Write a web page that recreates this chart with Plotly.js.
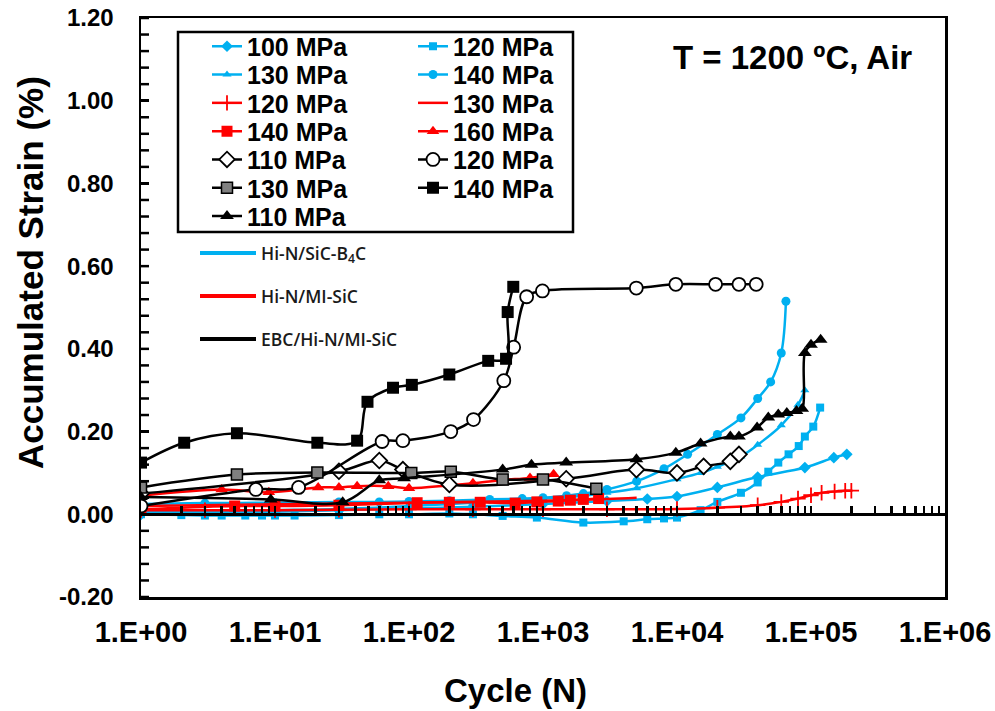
<!DOCTYPE html>
<html>
<head>
<meta charset="utf-8">
<script src="https://cdn.plot.ly/plotly-3.0.1.min.js"></script>
<style>html,body{margin:0;padding:0;background:#fff;}#chart{width:995px;height:711px;}</style>
</head>
<body>
<div id="chart"></div>
<script>
// ---------------- DATA ----------------
const BLUE = '#00B0F0', RED = '#FF0000';

// Hi-N/SiC-B4C (blue)
const b100_N = [1,3,10,30,100,300,1000,3000,6000,10000,20000,40000,90000,148000,185000];
const b100_S = [0.0,0.003,0.006,0.01,0.014,0.018,0.025,0.032,0.037,0.043,0.065,0.09,0.113,0.137,0.145];

const b120_N = [1,2,3,4,6,8,10,14,30,60,100,200,300,500,900,2000,4000,6000,8000,10000,15000,20000,30000,40000,48000,57000,68000,81000,90000,104000,117000];
const b120_S = [0.0,-0.002,-0.003,-0.003,-0.003,-0.003,-0.003,-0.003,-0.002,0.0,0.0,0.002,0.0,-0.004,-0.008,-0.02,-0.017,-0.012,-0.01,-0.008,0.01,0.03,0.052,0.077,0.103,0.125,0.145,0.165,0.188,0.212,0.258];

const b130_N = [1,3,10,30,100,300,1000,2000,3000,5000,10000,15000,20000,30000,40000,60000,80000,90000];
const b130_S = [0.005,0.007,0.01,0.013,0.02,0.028,0.038,0.045,0.052,0.063,0.085,0.1,0.115,0.14,0.168,0.215,0.265,0.30];

const b140_N = [1,3,10,30,60,100,200,400,700,1000,1500,2000,3000,5000,8000,12000,20000,30000,40000,50000,60000,65000];
const b140_S = [0.025,0.027,0.028,0.03,0.03,0.031,0.033,0.036,0.038,0.04,0.045,0.05,0.06,0.08,0.11,0.145,0.193,0.233,0.28,0.32,0.39,0.515];

// Hi-N/MI-SiC (red)
const r120_N = [1,3,10,30,100,300,1000,3000,10000,20000,40000,60000,80000,100000,120000,150000,180000,200000];
const r120_S = [0.01,0.01,0.01,0.011,0.012,0.012,0.012,0.012,0.013,0.016,0.022,0.03,0.038,0.046,0.052,0.055,0.057,0.057];

const r130_N = [1,10,100,1000,3000,5000];
const r130_S = [0.02,0.024,0.028,0.033,0.037,0.04];

const r140_N = [1,5,10,30,115,200,340,620,900,1300,1600,2000,2600];
const r140_S = [0.012,0.02,0.02,0.022,0.028,0.029,0.029,0.027,0.03,0.032,0.034,0.036,0.038];

const r160_N = [1,4,9,21,30,41,70,100,200,300,500,800,1200];
const r160_S = [0.045,0.06,0.053,0.065,0.065,0.068,0.068,0.063,0.07,0.075,0.083,0.088,0.097];

// EBC/Hi-N/MI-SiC (black)
const e110d_N = [1,30,60,90,200,1490,4980,10000,15800,25000,29000];
const e110d_S = [0.05,0.104,0.13,0.108,0.072,0.086,0.108,0.10,0.116,0.128,0.145];

const e120_N = [1,7.2,15,63,90,205,303,510,604,755,990,4970,9800,19400,29000,39000];
const e120_S = [0.02,0.06,0.065,0.176,0.178,0.2,0.229,0.323,0.404,0.526,0.54,0.547,0.556,0.556,0.556,0.556];

const e130_N = [1,5.2,20.7,104,205,500,1000,2500];
const e130_S = [0.065,0.096,0.101,0.1,0.103,0.084,0.084,0.062];

const e140_N = [1,2.1,5.2,20.7,41,49,76,105,200,390,530,545,600];
const e140_S = [0.125,0.173,0.196,0.173,0.178,0.272,0.306,0.313,0.338,0.371,0.376,0.489,0.55];

const e110t_N = [1,9.3,32,60,92,500,820,1490,4980,9800,15000,25000,29000,39600,48000,57000,66000,78000,86000,90000,100000,118000];
const e110t_S = [0.042,0.036,0.029,0.082,0.087,0.108,0.12,0.125,0.133,0.149,0.171,0.188,0.188,0.21,0.234,0.241,0.245,0.25,0.255,0.39,0.41,0.422];

const materials = ['Hi-N/SiC-B<sub>4</sub>C', 'Hi-N/MI-SiC', 'EBC/Hi-N/MI-SiC'];
const materialColors = [BLUE, RED, '#000000'];

const xTickVals = [1,10,100,1000,10000,100000,1000000];
const xTickText = ['1.E+00','1.E+01','1.E+02','1.E+03','1.E+04','1.E+05','1.E+06'];
const yTickVals = [-0.2,0,0.2,0.4,0.6,0.8,1.0,1.2];
const yTickText = ['-0.20','0.00','0.20','0.40','0.60','0.80','1.00','1.20'];
const yMinorStep = 0.04;

// ---------------- LAYOUT HELPERS ----------------
const W = 995, H = 711;
const PL = 141, PR = 945, PT = 18, PB = 597;
const px2x = p => (p - PL) / (PR - PL);
const py2y = p => 1 - (p - PT) / (PB - PT);

const ARIAL = 'Liberation Sans, Arial, sans-serif';
const LW = 2.5;

function series(name, N, S, color, marker, legendKey, mode) {
  return {
    type: 'scatter', mode: mode || 'lines+markers', name: name, x: N, y: S,
    line: {color: color, width: LW, shape: 'spline', smoothing: 1},
    marker: marker, legend: legendKey
  };
}

const traces = [
  series('100 MPa', b100_N, b100_S, BLUE, {symbol:'diamond', size:9, color:BLUE}, 'legend'),
  series('120 MPa', b120_N, b120_S, BLUE, {symbol:'square', size:8, color:BLUE}, 'legend2'),
  series('130 MPa', b130_N, b130_S, BLUE, {symbol:'triangle-up', size:8, color:BLUE}, 'legend3'),
  series('140 MPa', b140_N, b140_S, BLUE, {symbol:'circle', size:9, color:BLUE}, 'legend4'),
  series('120 MPa', r120_N, r120_S, RED, {symbol:'cross-thin-open', size:11, color:RED, line:{color:RED, width:1.8}}, 'legend5'),
  series('130 MPa', r130_N, r130_S, RED, {size:1}, 'legend6', 'lines'),
  series('140 MPa', r140_N, r140_S, RED, {symbol:'square', size:11, color:RED}, 'legend7'),
  series('160 MPa', r160_N, r160_S, RED, {symbol:'triangle-up', size:11, color:RED}, 'legend8'),
  series('110 MPa', e110d_N, e110d_S, '#000', {symbol:'diamond', size:12, color:'#fff', line:{color:'#000', width:1.8}}, 'legend9'),
  series('120 MPa', e120_N, e120_S, '#000', {symbol:'circle', size:13, color:'#fff', line:{color:'#000', width:1.8}}, 'legend10'),
  series('130 MPa', e130_N, e130_S, '#000', {symbol:'square', size:11, color:'#808080', line:{color:'#000', width:1.5}}, 'legend11'),
  series('140 MPa', e140_N, e140_S, '#000', {symbol:'square', size:12, color:'#000'}, 'legend12'),
  series('110 MPa', e110t_N, e110t_S, '#000', {symbol:'triangle-up', size:12, color:'#000'}, 'legend13')
];

materials.forEach((m, i) => {
  traces.push({type:'scatter', mode:'lines', name:m, x:[null], y:[null],
    line:{color:materialColors[i], width:4}, legend:'legend' + (14 + i), hoverinfo:'skip'});
});
traces.push({type:'scatter', mode:'markers', x:[null], y:[null], xaxis:'x2', showlegend:false, hoverinfo:'skip'});

const rowY = i => 46.5 + 28.3 * i;
const col1X = 207, col2X = 413;
const legendSlots = [
  [col1X,0],[col2X,0],[col1X,1],[col2X,1],[col1X,2],[col2X,2],[col1X,3],[col2X,3],
  [col1X,4],[col2X,4],[col1X,5],[col2X,5],[col1X,6]
];

// y-axis tick marks (inside, every 0.04) drawn as short axis-referenced lines
const yTickShapes = [];
for (let k = 0; k <= Math.round(1.4 / yMinorStep); k++) {
  const v = -0.2 + k * yMinorStep;
  yTickShapes.push({type:'line', xref:'paper', yref:'y', x0:0, x1:8 / (PR - PL), y0:v, y1:v,
    line:{color:'#000', width:2.5}, layer:'above'});
}

const layout = {
  width: W, height: H,
  margin: {l: PL, r: W - PR, t: PT, b: H - PB, pad: 0},
  paper_bgcolor: '#fff', plot_bgcolor: '#fff',
  showlegend: true,
  xaxis: {
    type: 'log', range: [0, 6], showgrid: false, zeroline: false,
    showline: true, linecolor: '#000', linewidth: 2.5, mirror: true,
    ticks: '', tickvals: xTickVals, ticktext: xTickText,
    tickfont: {family: ARIAL, size: 29, color:'#000', weight:'bold'},
    ticklabelstandoff: 8, ticklabeloverflow: 'allow'
  },
  xaxis2: {
    type: 'log', range: [0, 6], overlaying: 'x', anchor: 'free', position: 0.2 / 1.4, side: 'bottom',
    showgrid: false, zeroline: false, showline: true, linecolor: '#000', linewidth: 3,
    ticks: 'inside', ticklen: 7, tickwidth: 2.5, tickcolor: '#000', showticklabels: false,
    tickvals: (function(){ const v=[]; for (let d=0; d<6; d++) for (let k=1; k<10; k++) v.push(k*Math.pow(10,d)); v.push(1e6); return v; })()
  },
  yaxis: {
    range: [-0.2, 1.2], showgrid: false, zeroline: false,
    showline: true, linecolor: '#000', linewidth: 2.5, mirror: true,
    ticks: 'inside', ticklen: 8, tickwidth: 2.5, tickcolor: '#000',
    tickvals: yTickVals, ticktext: yTickText,
    tickfont: {family: ARIAL, size: 24, color:'#000', weight:'bold'},
    ticklabelstandoff: 20
  },
  shapes: [{
    type: 'rect', xref: 'paper', yref: 'paper',
    x0: px2x(178), x1: px2x(573), y0: py2y(232), y1: py2y(32),
    line: {color: '#000', width: 2.5}, fillcolor: 'rgba(0,0,0,0)'
  }].concat(yTickShapes),
  annotations: [{
    text: 'T = 1200 ºC, Air', xref: 'paper', yref: 'paper',
    x: px2x(792), y: py2y(57), xanchor: 'center', yanchor: 'middle', showarrow: false,
    font: {family: ARIAL, size: 33, color: '#000', weight: 'bold'}
  }, {
    text: 'Cycle (N)', xref: 'paper', yref: 'paper',
    x: px2x(515), y: py2y(690), xanchor: 'center', yanchor: 'middle', showarrow: false,
    font: {family: ARIAL, size: 33, color:'#000', weight:'bold'}
  }, {
    text: 'Accumulated Strain (%)', xref: 'paper', yref: 'paper', textangle: -90,
    x: px2x(30), y: py2y(273), xanchor: 'center', yanchor: 'middle', showarrow: false,
    font: {family: ARIAL, size: 35, color:'#000', weight:'bold'}
  }]
};
legendSlots.forEach((s, i) => {
  const key = i === 0 ? 'legend' : 'legend' + (i + 1);
  layout[key] = {x: px2x(s[0]), y: py2y(rowY(s[1])), xanchor: 'left', yanchor: 'middle',
    bgcolor: 'rgba(0,0,0,0)', borderwidth: 0, itemwidth: 30,
    font: {family: ARIAL, size: 25, color:'#000', weight:'bold'}};
});
[253, 296, 339].forEach((yy, i) => {
  layout['legend' + (14 + i)] = {x: px2x(195), y: py2y(yy), xanchor: 'left', yanchor: 'middle',
    bgcolor: 'rgba(0,0,0,0)', borderwidth: 0, itemwidth: 56,
    font: {family: 'Open Sans, ' + ARIAL, size: 17.5, color: '#1a1a1a', weight: 600}};
});

Plotly.newPlot('chart', traces, layout, {displayModeBar: false, staticPlot: true});
</script>
</body>
</html>
